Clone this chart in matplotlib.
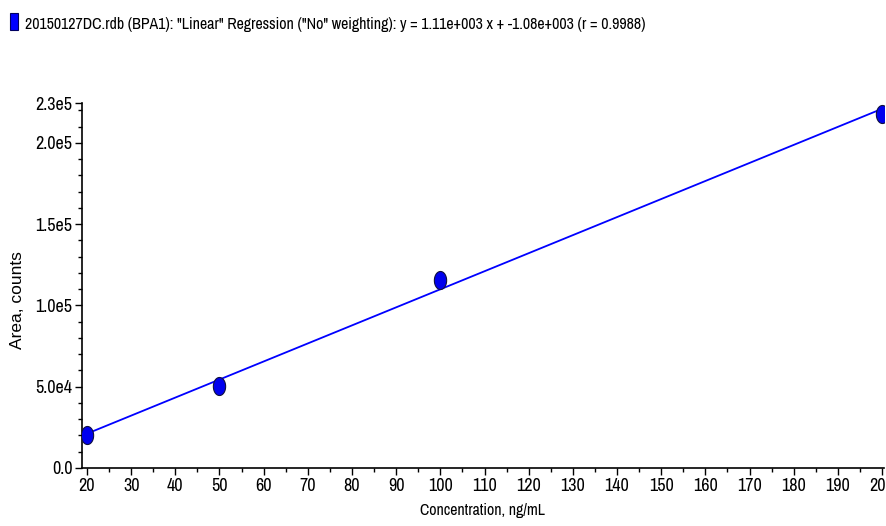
import matplotlib
matplotlib.use("Agg")
import matplotlib.pyplot as plt
from matplotlib.path import Path
import numpy as np

# Data
conc = [20, 50, 100, 200]
area = [20200, 50300, 115500, 218000]
slope = 1.11e3
intercept = -1.08e3
x_ticks = list(range(20, 201, 10))
y_ticks = [0, 5e4, 1e5, 1.5e5, 2e5]
y_tick_labels = ["0.0", "5.0e4", "1.0e5", "1.5e5", "2.0e5"]
title = '20150127DC.rdb (BPA1): "Linear" Regression ("No" weighting): y = 1.11e+003 x + -1.08e+003 (r = 0.9988)'

NARROW = ['Archivo Narrow', 'Roboto Condensed', 'PT Sans Narrow', 'Liberation Sans', 'DejaVu Sans']
plt.rcParams['font.family'] = NARROW

fig = plt.figure(figsize=(8.87, 5.26), dpi=100)
ax = fig.add_axes([82/887, 1-468/526, (884-82)/887, (468-103)/526])

ymax = 2.245e5
ax.set_xlim(18.87, 200.45)
ax.set_ylim(0, ymax)

xl = np.array([conc[0], conc[-1]])
ax.plot(xl, slope*xl + intercept, color="#0000ff", lw=1.3, zorder=2)

t = np.linspace(0, 2*np.pi, 60)
ell = Path(np.column_stack([0.68*np.cos(t), np.sin(t)]))
ax.plot(conc, area, linestyle="none", marker=ell, markersize=13,
        markerfacecolor="#0000ee", markeredgecolor="#101040", markeredgewidth=0.8, zorder=3)

for s in ["top", "right"]:
    ax.spines[s].set_visible(False)
for s in ["left", "bottom"]:
    ax.spines[s].set_linewidth(1.2)

ax.set_xticks(x_ticks)
ax.set_xticks(list(range(25, 200, 10)), minor=True)
ax.set_yticks(y_ticks + [ymax])
ax.set_yticklabels(y_tick_labels + ["2.3e5"])
ax.set_yticks(list(np.arange(1e4, 2.25e5, 1e4)), minor=True)
ax.tick_params(which="major", length=5, width=1, labelsize=13, pad=2)
ax.tick_params(which="minor", length=3, width=1)

ax.set_xlabel("Concentration, ng/mL", fontsize=12.5, labelpad=7)
ax.set_ylabel("Area, counts", fontsize=12.5, family=['Liberation Sans', 'DejaVu Sans'])
ax.yaxis.set_label_coords((25-82)/802, (468-300)/365)

fig.patches.append(plt.Rectangle((10/887, 1-30/526), 8/887, 17/526, transform=fig.transFigure,
                                 facecolor="#0000ff", edgecolor="#000060", lw=0.8))
ttl = fig.text(25/887, 1-24/526, title, fontsize=12.5, va="center", ha="left")

# fit widths of long texts to the reference
r = fig.canvas.get_renderer()
w = ttl.get_window_extent(r).width
ttl.set_fontsize(12.5 * 625 / w)
xlab = ax.xaxis.label
w = xlab.get_window_extent(r).width
xlab.set_fontsize(12.5 * 125 / w)

fig.savefig("out.png", dpi=100)
